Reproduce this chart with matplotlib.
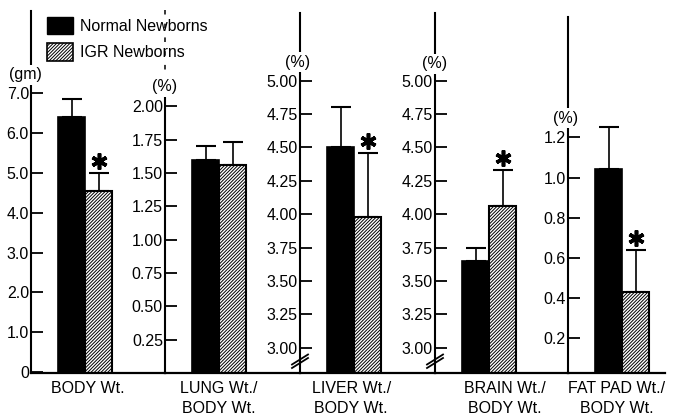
import matplotlib
matplotlib.use('Agg')
from matplotlib import pyplot as plt
from matplotlib.patches import Patch
import matplotlib.transforms as mtrans

plt.rcParams['font.family'] = ['Liberation Sans', 'DejaVu Sans']
plt.rcParams['hatch.linewidth'] = 0.7

# data
panels = ['BODY Wt.', 'LUNG Wt./\nBODY Wt.', 'LIVER Wt./\nBODY Wt.',
          'BRAIN Wt./\nBODY Wt.', 'FAT PAD Wt./\nBODY Wt.']
units = ['(gm)', '(%)', '(%)', '(%)', '(%)']
normal = [6.40, 1.60, 4.50, 3.65, 1.04]
normal_err = [0.45, 0.10, 0.30, 0.10, 0.21]
igr = [4.55, 1.56, 3.98, 4.06, 0.43]
igr_err = [0.44, 0.17, 0.48, 0.27, 0.21]
signif = [True, False, True, True, True]
ticks = [[0, 1, 2, 3, 4, 5, 6, 7],
         [0.25, 0.5, 0.75, 1.0, 1.25, 1.5, 1.75, 2.0],
         [3.0, 3.25, 3.5, 3.75, 4.0, 4.25, 4.5, 4.75, 5.0],
         [3.0, 3.25, 3.5, 3.75, 4.0, 4.25, 4.5, 4.75, 5.0],
         [0.2, 0.4, 0.6, 0.8, 1.0, 1.2]]
ticklabels = [['0', '1.0', '2.0', '3.0', '4.0', '5.0', '6.0', '7.0'],
              ['0.25', '0.50', '0.75', '1.00', '1.25', '1.50', '1.75', '2.00'],
              ['3.00', '3.25', '3.50', '3.75', '4.00', '4.25', '4.50', '4.75', '5.00'],
              ['3.00', '3.25', '3.50', '3.75', '4.00', '4.25', '4.50', '4.75', '5.00'],
              ['0.2', '0.4', '0.6', '0.8', '1.0', '1.2']]

# layout in pixels of the 674x416 picture
W, H = 674, 416
base = 373
ax_x = [31, 165, 300, 435, 568, 665]
ax_top = [11, 10, 13, 13, 17]
ymin = [-0.025, 0.0, 2.81, 2.81, 0.025]
ppu = [39.8, 133.3, 133.5, 133.5, 200.5]
unit_y = [75, 87, 62, 64, 118]
unit_dx = [-6, 0, -2, 0, -2]
label_dx = [0.1, 0.0, -0.1, 0.6, -0.2]
bw = 27.0  # pixels per bar
hatch = '//////////'

fig = plt.figure(figsize=(6.74, 4.16), dpi=100)

for i in range(5):
    x0, x1 = ax_x[i], ax_x[i + 1]
    ax = fig.add_axes([x0 / W, 1 - base / H, (x1 - x0) / W, (base - ax_top[i]) / H])
    ax.patch.set_visible(False)
    ytop = ymin[i] + (base - ax_top[i]) / ppu[i]
    ax.set_ylim(ymin[i], ytop)
    ax.set_xlim(-1.5, (x1 - x0) / bw - 1.5)
    for s in ('top', 'right'):
        ax.spines[s].set_visible(False)
    ax.spines['left'].set_linewidth(1.5)
    ax.spines['bottom'].set_linewidth(1.6)

    ax.bar(0, normal[i] - ymin[i], bottom=ymin[i], width=1, color='black',
           edgecolor='black', linewidth=1.2, zorder=2)
    ax.bar(1, igr[i] - ymin[i], bottom=ymin[i], width=1, color='white',
           edgecolor='black', linewidth=1.5, hatch=hatch, zorder=2)
    ax.errorbar([0, 1], [normal[i], igr[i]],
                yerr=[[0, 0], [normal_err[i], igr_err[i]]],
                fmt='none', ecolor='black', elinewidth=1.2, capsize=7.5,
                capthick=1.5, zorder=1)
    if signif[i]:
        tr = mtrans.offset_copy(ax.transData, fig=fig, y=12, units='dots')
        ax.plot(1, igr[i] + igr_err[i], marker=(6, 2, 0), ms=11.5, mew=2.6,
                color='black', transform=tr, clip_on=False)

    ax.set_yticks(ticks[i])
    ax.set_yticklabels(ticklabels[i], fontsize=11.5)
    ax.tick_params(axis='y', direction='in', length=8.5, width=1.3, pad=1.5)
    ax.set_xticks([0.5 + label_dx[i]])
    ax.set_xticklabels([panels[i]], fontsize=11.5, linespacing=1.35)
    ax.tick_params(axis='x', length=0, pad=6)

    uy = ymin[i] + (base - unit_y[i]) / ppu[i]
    ut = mtrans.offset_copy(ax.get_yaxis_transform(), fig=fig, x=unit_dx[i], units='dots')
    ax.text(0, uy, units[i], transform=ut, ha='center', va='center', fontsize=11.5,
            bbox=dict(facecolor='white', edgecolor='none', pad=1.5), zorder=5)

    if i == 1:
        # upper part of the lung axis is only dashed
        top_solid = ymin[i] + (base - 97) / ppu[i]
        ax.spines['left'].set_bounds(ymin[i], top_solid)
        ax.plot([0, 0], [top_solid, ytop], transform=ax.get_yaxis_transform(),
                color='black', lw=1.1, ls=(0, (3, 6)), clip_on=False)
    if i in (2, 3):
        # axis break marks
        yb = ymin[i] + 10 / ppu[i]
        for dy in (0, 3.5):
            ax.plot([-8 / (x1 - x0), 8 / (x1 - x0)],
                    [yb - 5 / ppu[i], yb + 5 / ppu[i]],
                    transform=mtrans.blended_transform_factory(ax.transAxes, ax.transData)
                    + mtrans.Affine2D().translate(0, dy),
                    color='black', lw=1.3, clip_on=False)

handles = [Patch(facecolor='black', edgecolor='black'),
           Patch(facecolor='white', edgecolor='black', hatch=hatch, linewidth=1.2)]
fig.legend(handles, ['Normal Newborns', 'IGR Newborns'], loc='upper left',
           bbox_to_anchor=(47 / W, 1 - 17 / H), frameon=False, fontsize=11.5,
           borderpad=0, borderaxespad=0, handlelength=1.6, handleheight=1.3,
           handletextpad=0.45, labelspacing=0.55)

plt.savefig('out.png', dpi=100)
